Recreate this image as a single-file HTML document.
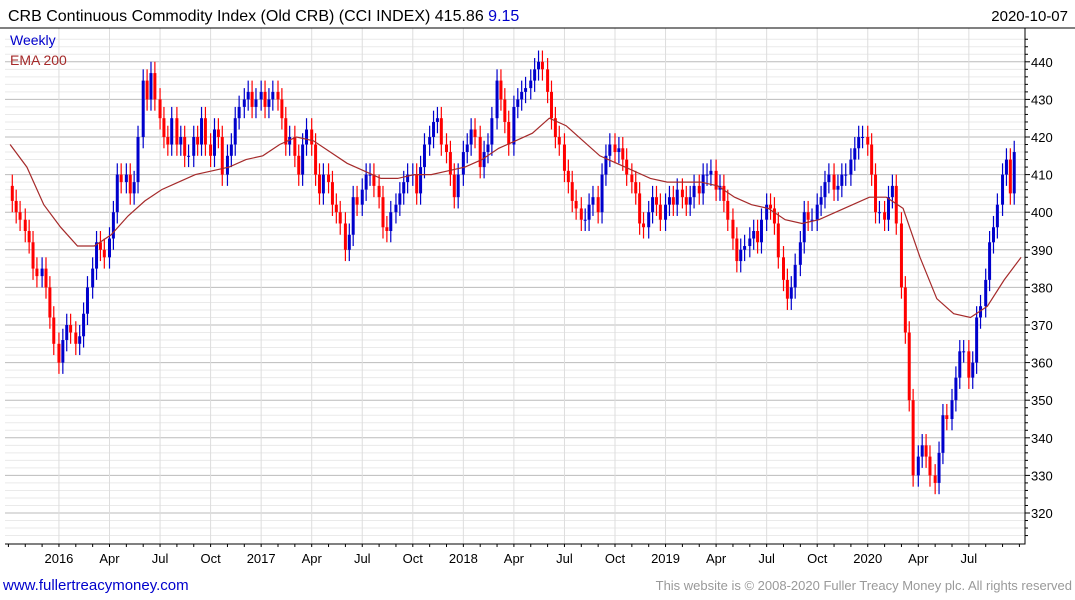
<!DOCTYPE html>
<html><head><meta charset="utf-8"><style>
body{margin:0;background:#fff;width:1075px;height:600px;overflow:hidden;font-family:"Liberation Sans",sans-serif}
svg{position:absolute;left:0;top:0}
</style></head><body>
<svg width="1075" height="600">
<g id="grid"></g><g id="candles"></g><g id="ema"></g><g id="axes"></g>
<text x="8" y="21" font-size="16" fill="#000">CRB Continuous Commodity Index (Old CRB) (CCI INDEX) 415.86 <tspan fill="#0000cc">9.15</tspan></text>
<text x="1068" y="21" font-size="15" text-anchor="end" fill="#000">2020-10-07</text>
<text x="10" y="45" font-size="14" fill="#0000cc">Weekly</text>
<text x="10" y="65" font-size="14" fill="#a52a2a">EMA 200</text>
<text x="3" y="590" font-size="15" fill="#0000cc">www.fullertreacymoney.com</text>
<text x="1072" y="590" font-size="13" fill="#999" text-anchor="end">This website is © 2008-2020 Fuller Treacy Money plc. All rights reserved</text>
</svg>
<script>
const closes=[407,403,400,398,395,392,385,383,385,380,372,365,360,366,370,368,365,367,373,380,385,392,390,388,393,400,410,408,410,405,408,420,435,430,437,430,425,420,418,425,418,420,415,415,420,418,425,418,415,422,420,410,415,418,425,428,430,432,428,430,432,428,430,432,430,425,418,420,415,410,418,422,418,410,405,410,408,402,400,397,390,394,404,402,406,410,410,407,404,396,395,400,402,405,408,410,410,405,412,418,420,424,425,418,416,410,404,410,416,418,422,420,412,416,418,425,435,430,424,418,428,430,432,433,435,438,440,438,432,425,420,418,411,408,403,401,398,398,402,404,400,410,415,418,416,417,414,410,408,405,397,396,400,404,402,398,402,404,402,406,404,402,404,407,405,410,410,411,406,407,403,398,393,387,390,391,393,395,392,398,402,401,397,388,382,377,380,386,392,400,398,398,402,404,408,410,406,407,410,410,414,417,420,420,418,410,400,400,398,404,407,397,380,368,350,330,335,338,335,330,328,336,346,345,350,356,363,363,356,360,372,375,382,392,396,402,410,414,405,416];
const emaVals=[418,412,402,396,391,391,394,399,403,406,408,410,411,412,414,415,418,420,419,416,413,411,409,409,410,410,411,412,414,417,419,421,425,423,419,415,413,411,409,408,408,408,407,404,402,401,398,397,398,400,402,404,404,401,388,377,373,372,375,382,388];
const yTicks=[320,330,340,350,360,370,380,390,400,410,420,430,440];
const xLabels=["2016","Apr","Jul","Oct","2017","Apr","Jul","Oct","2018","Apr","Jul","Oct","2019","Apr","Jul","Oct","2020","Apr","Jul"];
const NS="http://www.w3.org/2000/svg";
const L=5,R=1025,T=28,B=544;
const y=v=>137+(420-v)*3.76;
const xm=t=>8.4+t*16.85;
function mk(tag,at,parent){const e=document.createElementNS(NS,tag);for(const k in at)e.setAttribute(k,at[k]);document.getElementById(parent).appendChild(e);return e;}
for(let v=314;v<=446;v+=2){const yy=y(v);if(yy<T||yy>B)continue;const g=mk('line',{x1:L,x2:R,y1:yy,y2:yy,stroke:v%10==0?'#bbb':'#eaeaea','stroke-width':1},'grid');}
for(let q=0;q<xLabels.length;q++){const xx=xm(3+q*3);const g=mk('line',{x1:xx,x2:xx,y1:T,y2:B,stroke:'#ddd','stroke-width':1},'grid');}
for(let i=1;i<closes.length;i++){
  const o=closes[i-1],c=closes[i];const t=Math.floor(i/4)+(i%4)/4.33;const xx=xm(t);
  const col=c>=o?'#0000cc':'#ff0000';const hi=Math.max(o,c)+3,lo=Math.min(o,c)-3;
  const w=mk('line',{x1:xx,x2:xx,y1:y(hi),y2:y(lo),stroke:col,'stroke-width':1.2},'candles');
  
  const b=mk('rect',{x:xx-1.5,y:y(Math.max(o,c)),width:3,height:Math.max(1,Math.abs(y(o)-y(c))),fill:col},'candles');
  
}
let pts=emaVals.map((v,i)=>xm(i+0.1).toFixed(1)+','+y(v).toFixed(1)).join(' ');
const pl=mk('polyline',{points:pts,fill:'none',stroke:'#a52a2a','stroke-width':1.2},'ema');

const ax=mk('polyline',{points:`${L},${B} ${R},${B} ${R},${T}`,fill:'none',stroke:'#000','stroke-width':1},'axes');

const tp=mk('line',{x1:0,x2:1075,y1:28,y2:28,stroke:'#000','stroke-width':1},'axes');

for(const v of yTicks){const t=mk('text',{x:1031,y:y(v)+5,'font-size':13,fill:'#000'},'axes');t.textContent=v;}
for(let v=314;v<=446;v+=2){const yy=y(v);if(yy<T||yy>B)continue;const t=mk('line',{x1:R,x2:R+(v%10==0?5:3),y1:yy,y2:yy,stroke:'#000'},'axes');}
for(let m=0;m<=60;m++){const xx=xm(m);const t=mk('line',{x1:xx,x2:xx,y1:B,y2:B+3,stroke:'#000'},'axes');}
xLabels.forEach((s,q)=>{const t=mk('text',{x:xm(3+q*3),y:563,'font-size':13,'text-anchor':'middle',fill:'#000'},'axes');t.textContent=s;});
</script>
</body></html>
